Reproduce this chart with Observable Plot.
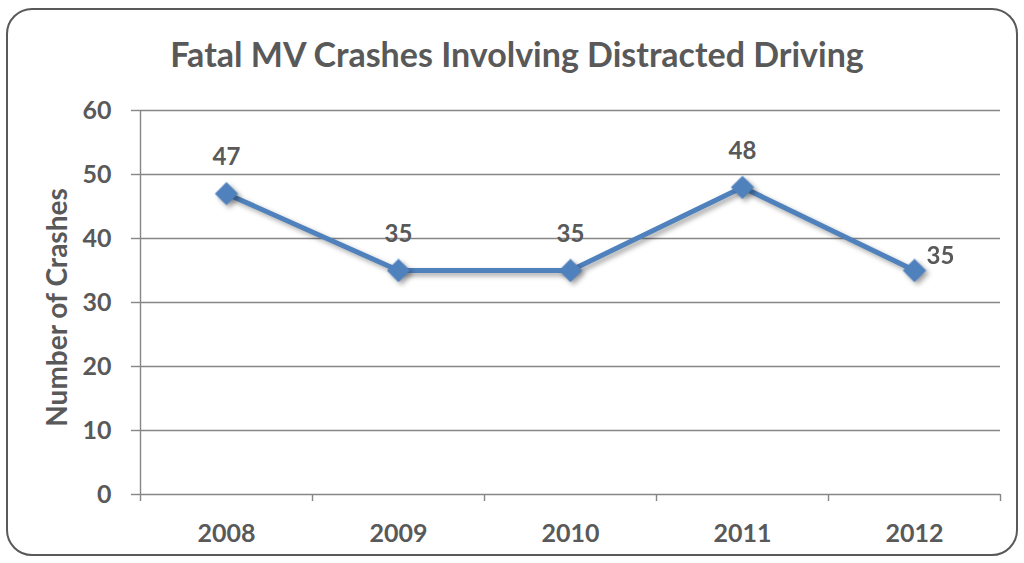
<!DOCTYPE html>
<html>
<head>
<meta charset="utf-8">
<script src="https://cdn.jsdelivr.net/npm/d3@7"></script>
<script src="https://cdn.jsdelivr.net/npm/@observablehq/plot@0.6"></script>
<style>
  html, body { margin: 0; padding: 0; background: #fff; }
  #wrap { position: relative; width: 1024px; height: 563px; overflow: hidden; background: #fff; }
  #frame { position: absolute; left: 6px; top: 8px; width: 1008px; height: 544px;
           border: 2.5px solid #595959; border-radius: 26px; box-sizing: content-box; }
  #title { position: absolute; left: 0; width: 1034px; top: 33px; text-align: center;
           font-family: Lato, "Open Sans", sans-serif; font-weight: bold; font-size: 34px;
           color: #595959; line-height: 42px; }
  #chart { position: absolute; left: 0; top: 0; }
  #chart g[aria-label="line"], #chart g[aria-label="dot"] { filter: drop-shadow(3px 3px 2.5px rgba(0,0,0,0.35)); }
</style>
</head>
<body>
<div id="wrap">
  <div id="frame"></div>
  <div id="chart"></div>
  <div id="title">Fatal MV Crashes Involving Distracted Driving</div>
</div>
<script>
const years = ["2008", "2009", "2010", "2011", "2012"];
const crashes = [47, 35, 35, 48, 35];
const yTicks = [0, 10, 20, 30, 40, 50, 60];
const yLabel = "Number of Crashes";

const rows = years.map((year, i) => ({year, idx: i, value: crashes[i]}));
const xc = d => d.idx + 0.5;
const bounds = d3.range(0, years.length + 1);
const gridColor = "#868686";
const textColor = "#595959";
const lineColor = "#4F81BD";
const font = "Lato, 'Open Sans', sans-serif";

const chart = Plot.plot({
  width: 1024,
  height: 563,
  marginLeft: 140,
  marginRight: 24,
  marginTop: 110,
  marginBottom: 69,
  style: {background: "transparent", fontFamily: font, fontWeight: "bold", color: textColor},
  x: {domain: [0, years.length], axis: null},
  y: {domain: [0, 60], axis: null},
  marks: [
    Plot.gridY(yTicks, {stroke: gridColor, strokeOpacity: 1, strokeWidth: 1.4}),
    Plot.axisY(yTicks, {tickSize: 9, tickPadding: 20, fontSize: 25, fontWeight: "bold", stroke: gridColor, fill: textColor, strokeWidth: 1.4, label: null}),
    Plot.axisX(bounds, {tickSize: 7, tickFormat: () => "", stroke: gridColor, strokeWidth: 1.4, label: null}),
    Plot.ruleX([0], {y1: 0, y2: 60, stroke: gridColor, strokeWidth: 1.4}),
    Plot.text(rows, {x: xc, y: 0, text: "year", dy: 39, fontSize: 25, fontWeight: "bold", fill: textColor}),
    Plot.text([yLabel], {frameAnchor: "left", textAnchor: "middle", rotate: -90, dx: -82, dy: 5, fontSize: 28, fontWeight: "bold", fill: textColor}),
    Plot.line(rows, {x: xc, y: "value", stroke: lineColor, strokeWidth: 5}),
    Plot.dot(rows, {x: xc, y: "value", symbol: "diamond2", r: 10.5, fill: lineColor, stroke: null}),
    Plot.text(rows.slice(0, -1), {x: xc, y: "value", text: d => String(d.value), dy: -36, fontSize: 24, fontWeight: "bold", fill: textColor}),
    Plot.text(rows.slice(-1), {x: xc, y: "value", text: d => String(d.value), dx: 12, dy: -14, textAnchor: "start", fontSize: 24, fontWeight: "bold", fill: textColor})
  ]
});
document.getElementById("chart").appendChild(chart);
</script>
</body>
</html>
